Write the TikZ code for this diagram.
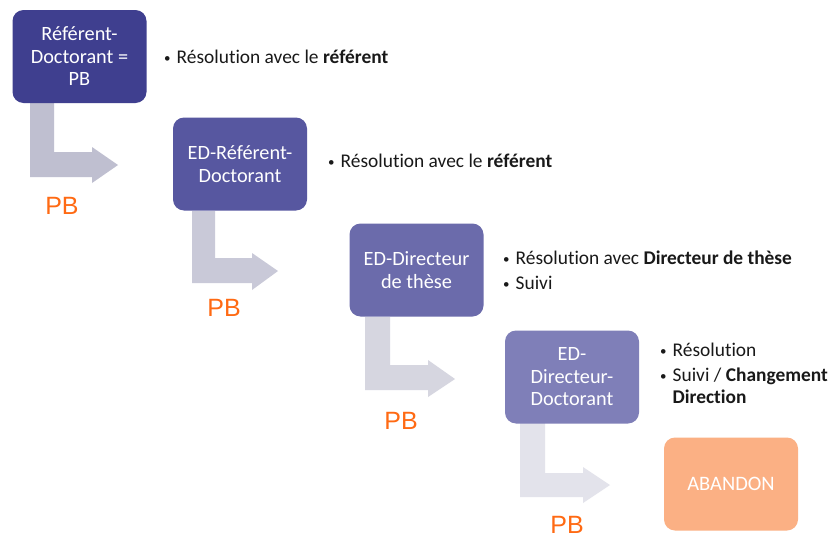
\documentclass[tikz,border=0pt]{standalone}
\usepackage{fontspec}
\setmainfont{Carlito}[Ligatures=NoCommon]
\newfontfamily\pbfont{Liberation Sans}
\newcommand{\bl}{\makebox[12.5pt][l]{\raisebox{1pt}{\fontsize{13}{13}\selectfont •}}}
\begin{document}
\begin{tikzpicture}[x=1pt,y=-1pt,
  box/.style={rounded corners=11pt, minimum width=134pt, minimum height=93pt, align=center, text=white, font=\fontsize{20.3}{22.5}\selectfont, inner sep=2pt},
  pb/.style={text=pborange, inner sep=0pt, font=\pbfont\fontsize{25}{27}\selectfont},
  bul/.style={anchor=west, align=left, text=black!90, font=\fontsize{19.4}{22}\selectfont, inner sep=0pt}]
\definecolor{c1}{HTML}{3F3F8F}
\definecolor{c2}{HTML}{5757A0}
\definecolor{c3}{HTML}{6B6BAB}
\definecolor{c4}{HTML}{7F7FB8}
\definecolor{cab}{HTML}{FBB084}
\definecolor{a1}{HTML}{BFBFD0}
\definecolor{a2}{HTML}{C9C9D8}
\definecolor{a3}{HTML}{D6D6E0}
\definecolor{a4}{HTML}{E3E3EB}
\definecolor{pborange}{HTML}{FF6A13}
\useasboundingbox[fill=white] (0,0) rectangle (831,538);
% arrows
\fill[a1] (30,103) -- (54,103) -- (54,152) -- (92,152) -- (92,147) -- (118,165) -- (92,183) -- (92,177) -- (30,177) -- cycle;
\fill[a2] (192,211) -- (215,211) -- (215,258) -- (252,258) -- (252,253) -- (278,271) -- (252,290) -- (252,283) -- (192,283) -- cycle;
\fill[a3] (365,317) -- (390,317) -- (390,365) -- (428,365) -- (428,360) -- (455,379) -- (428,397) -- (428,390) -- (365,390) -- cycle;
\fill[a4] (520,423) -- (545,423) -- (545,473) -- (583,473) -- (583,467) -- (610,485) -- (583,503) -- (583,497) -- (520,497) -- cycle;
% boxes
\node[box, fill=c1] (b1) at (79.5,56.5) {Référent-\\Doctorant =\\PB};
\node[box, fill=c2] (b2) at (240,164) {ED-Référent-\\Doctorant};
\node[box, fill=c3] (b3) at (416.5,270) {ED-Directeur\\de thèse};
\node[box, fill=c4] (b4) at (572,377) {ED-\\Directeur-\\Doctorant};
\node[box, fill=cab, font=\fontsize{20.5}{22}\selectfont] (b5) at (731,484) {ABANDON};
% PB labels
\node[pb] (p1) at (62,206) {PB};
\node[pb] (p2) at (224,308) {PB};
\node[pb] (p3) at (401,421) {PB};
\node[pb] (p4) at (567,525) {PB};
% bullets
\node[bul] (t1) at (164,57) {\bl Résolution avec le \textbf{référent}};
\node[bul] (t2) at (328,161) {\bl Résolution avec le \textbf{référent}};
\node[bul] (t3) at (503,270) {\bl Résolution avec \textbf{Directeur de thèse}\\[3pt]\bl Suivi};
\node[bul] (t4) at (660,373) {\bl Résolution\\[3pt]\bl Suivi / \textbf{Changement}\\\hspace{12.5pt}\textbf{Direction}};
\end{tikzpicture}
\end{document}
